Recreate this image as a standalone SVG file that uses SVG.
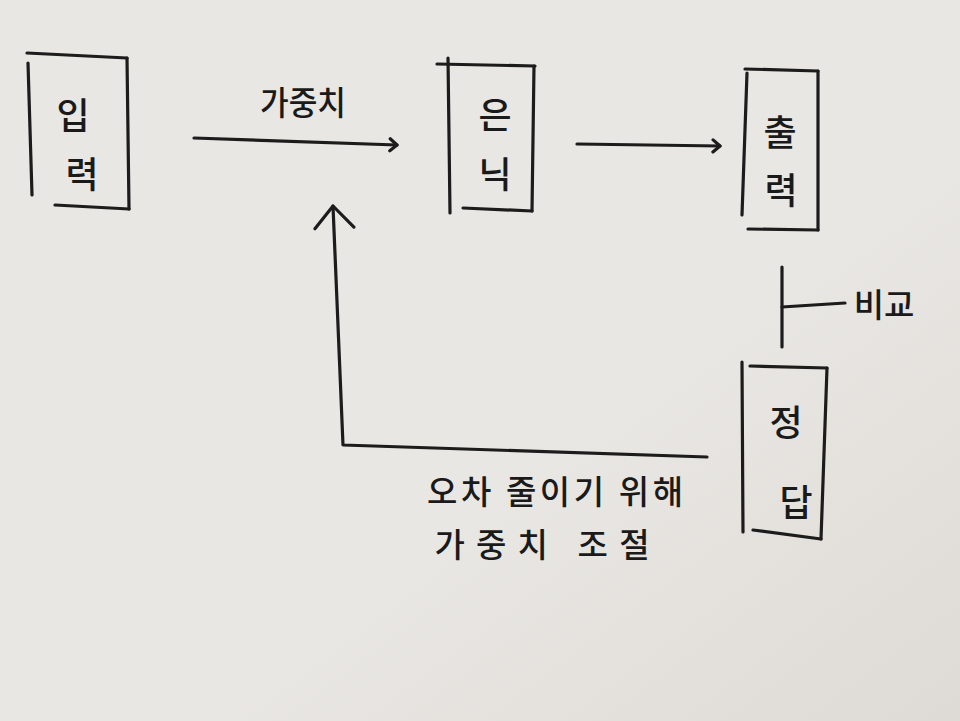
<svg xmlns="http://www.w3.org/2000/svg" width="960" height="721" viewBox="0 0 960 721">
<defs>
<linearGradient id="paper" x1="0" y1="0" x2="1" y2="1">
<stop offset="0" stop-color="#e9e7e4"/>
<stop offset="0.6" stop-color="#e9e7e3"/>
<stop offset="1" stop-color="#dedbd6"/>
</linearGradient>
<marker id="hs" markerUnits="userSpaceOnUse" markerWidth="16" markerHeight="16" refX="13" refY="8" orient="auto" viewBox="0 0 16 16">
<path d="M6,2 L13,8 L6,14" fill="none" stroke="#1c1c1c" stroke-width="3.2" stroke-linecap="round" stroke-linejoin="round"/>
</marker>
<marker id="hl" markerUnits="userSpaceOnUse" markerWidth="30" markerHeight="44" refX="26" refY="22" orient="auto" viewBox="0 0 30 44">
<path d="M4,3 L26,22 L4,42" fill="none" stroke="#1c1c1c" stroke-width="3.2" stroke-linecap="round" stroke-linejoin="round"/>
</marker>
</defs>
<style>
.ln{fill:none;stroke:#1c1c1c;stroke-width:3.2;stroke-linecap:round;stroke-linejoin:round}
.t{font-family:"Noto Sans CJK KR","Noto Sans",sans-serif;fill:#1a1a1a;text-anchor:middle;dominant-baseline:central;font-weight:500}
.b{font-size:36px}
.l{font-size:33px}
</style>
<rect width="960" height="721" fill="url(#paper)"/>

<g id="node-input">
<path class="ln" d="M27,53 L127,58"/>
<path class="ln" d="M28,63 L32,195"/>
<path class="ln" d="M127,58 L129,209"/>
<path class="ln" d="M55,205 L129,209"/>
<text class="t b" x="73" y="113">입</text>
<text class="t b" x="82" y="172">력</text>
</g>

<g id="node-hidden">
<path class="ln" d="M437,64 L535,66"/>
<path class="ln" d="M448,58 L450,213"/>
<path class="ln" d="M534,66 L532,211"/>
<path class="ln" d="M463,208 L532,211"/>
<text class="t b" x="495" y="113">은</text>
<text class="t b" x="495" y="172">닉</text>
</g>

<g id="node-output">
<path class="ln" d="M745,69 L818,71"/>
<path class="ln" d="M747,73 L742,215"/>
<path class="ln" d="M818,71 L818,230"/>
<path class="ln" d="M748,229 L818,230"/>
<text class="t b" x="780" y="130">출</text>
<text class="t b" x="781" y="188">력</text>
</g>

<g id="node-answer">
<path class="ln" d="M742,362 L743,532"/>
<path class="ln" d="M750,366 L827,368"/>
<path class="ln" d="M827,368 L821,539"/>
<path class="ln" d="M753,530 L821,539"/>
<text class="t b" x="786" y="420">정</text>
<text class="t b" x="796" y="500">답</text>
</g>

<g id="connectors">
<path class="ln" d="M194,138 L397,145" marker-end="url(#hs)"/>
<path class="ln" d="M577,144 L720,146" marker-end="url(#hs)"/>
<path class="ln" d="M782,267 L782,347"/>
<path class="ln" d="M782,307 L845,303"/>
<path class="ln" d="M707,457 L343,445 L333,206" marker-end="url(#hl)"/>
</g>

<g id="labels">
<text class="t l" x="303" y="101" textLength="86" lengthAdjust="spacingAndGlyphs">가중치</text>
<text class="t l" x="884" y="303">비교</text>
<text class="t l" x="555" y="490" textLength="256" lengthAdjust="spacing">오차 줄이기 위해</text>
<text class="t l" x="542" y="543" textLength="215" lengthAdjust="spacing">가중치 조절</text>
</g>
</svg>
